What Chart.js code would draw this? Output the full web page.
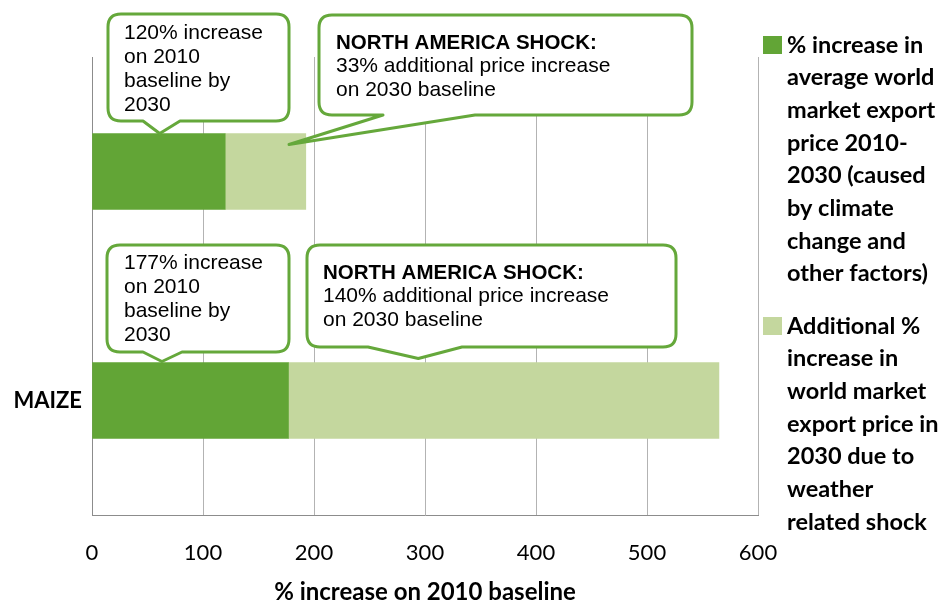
<!DOCTYPE html>
<html>
<head>
<meta charset="utf-8">
<script src="https://cdn.jsdelivr.net/npm/chart.js@4/dist/chart.umd.min.js"></script>
<style>
  html, body { margin: 0; padding: 0; background: #fff; }
  #wrap { width: 948px; height: 601px; position: relative; }
</style>
</head>
<body>
<div id="wrap"><canvas id="price-chart" width="948" height="601"></canvas></div>
<script>
/* data */
const categories = ['', 'MAIZE'];
const baseIncrease = [120, 177];      // % increase 2010-2030
const shockIncrease = [72.6, 387.8];  // additional % from the North America shock
const xTicks = [0, 100, 200, 300, 400, 500, 600];

const seriesNames = [
    ['% increase in', 'average world', 'market export', 'price 2010-', '2030 (caused', 'by climate', 'change and', 'other factors)'],
    ['Additional %', 'increase in', 'world market', 'export price in', '2030 due to', 'weather', 'related shock']
];
const axisTitle = '% increase on 2010 baseline';

const darkGreen = '#62A536';
const lightGreen = '#C4D79E';
const calloutGreen = '#65A83B';

/* callouts: box in pixels, tip tied to a bar (category index + x value) */
const callouts = [
    { box: [108, 14, 289, 121], base: [143, 180], bar: 0, tipValue: 61, tipDy: 0,
      bold: null, lines: ['120% increase', 'on 2010', 'baseline by', '2030'], tx: 124, ty: 39 },
    { box: [319, 15, 692, 115], base: [383, 475], bar: 0, tipValue: 177.5, tipDy: 11,
      bold: 'NORTH AMERICA SHOCK:', lines: ['33% additional price increase', 'on 2030 baseline'], tx: 336, ty: 49 },
    { box: [107, 245, 289, 352], base: [143, 182], bar: 1, tipValue: 63, tipDy: -1,
      bold: null, lines: ['177% increase', 'on 2010', 'baseline by', '2030'], tx: 124, ty: 269 },
    { box: [307, 245, 676, 347], base: [368, 462], bar: 1, tipValue: 294, tipDy: -4,
      bold: 'NORTH AMERICA SHOCK:', lines: ['140% additional price increase', 'on 2030 baseline'], tx: 323, ty: 279 }
];

function roundRectPath(c, x0, y0, x1, y1, r, bx0, bx1, tx, ty) {
    c.beginPath();
    c.moveTo(x0 + r, y0);
    c.lineTo(x1 - r, y0);
    c.quadraticCurveTo(x1, y0, x1, y0 + r);
    c.lineTo(x1, y1 - r);
    c.quadraticCurveTo(x1, y1, x1 - r, y1);
    c.lineTo(bx1, y1);
    c.lineTo(tx, ty);
    c.lineTo(bx0, y1);
    c.lineTo(x0 + r, y1);
    c.quadraticCurveTo(x0, y1, x0, y1 - r);
    c.lineTo(x0, y0 + r);
    c.quadraticCurveTo(x0, y0, x0 + r, y0);
    c.closePath();
}

const calloutPlugin = {
    id: 'callouts',
    afterDatasetsDraw(chart) {
        const c = chart.ctx;
        const xs = chart.scales.x;
        const bars = chart.getDatasetMeta(0).data;
        c.save();
        callouts.forEach(co => {
            const bar = bars[co.bar];
            const tipX = xs.getPixelForValue(co.tipValue);
            const tipY = bar.y - bar.height / 2 + co.tipDy;
            const [x0, y0, x1, y1] = co.box;
            roundRectPath(c, x0, y0, x1, y1, 13, co.base[0], co.base[1], tipX, tipY);
            c.fillStyle = '#fff';
            c.fill();
            c.lineWidth = 3;
            c.lineJoin = 'round';
            c.strokeStyle = calloutGreen;
            c.stroke();
            c.fillStyle = '#000';
            c.textBaseline = 'alphabetic';
            c.textAlign = 'left';
            let y = co.ty;
            if (co.bold) {
                c.font = 'bold 20.5px "Liberation Sans", Arial, sans-serif';
                c.fillText(co.bold, co.tx, y);
                y += 23;
            }
            c.font = '21px "Liberation Sans", Arial, sans-serif';
            co.lines.forEach(l => { c.fillText(l, co.tx, y); y += 24; });
        });
        c.restore();
    }
};

const legendPlugin = {
    id: 'sideLegend',
    afterDraw(chart) {
        const c = chart.ctx;
        const colors = [darkGreen, lightGreen];
        const starts = [45, 326];
        c.save();
        c.font = 'bold 23.5px Lato, "Open Sans", sans-serif';
        c.textBaseline = 'middle';
        c.fillStyle = '#000';
        seriesNames.forEach((lines, i) => {
            c.fillStyle = colors[i];
            c.fillRect(763, starts[i] - 9, 19, 18);
            c.fillStyle = '#000';
            lines.forEach((l, k) => c.fillText(l, 787, starts[i] + k * 32.7));
        });
        c.restore();
    }
};

let ctx = document.querySelector('#price-chart').getContext('2d');

let chart = new Chart(ctx, {
    type: 'bar',
    data: {
        labels: categories,
        datasets: [
            { label: seriesNames[0].join(' '), data: baseIncrease, backgroundColor: darkGreen, barThickness: 76 },
            { label: seriesNames[1].join(' '), data: shockIncrease, backgroundColor: lightGreen, barThickness: 76 }
        ]
    },
    options: {
        indexAxis: 'y',
        responsive: false,
        animation: false,
        layout: { padding: { top: 57, right: 190, left: 0, bottom: 0 } },
        plugins: {
            legend: { display: false },
            tooltip: { enabled: false }
        },
        scales: {
            x: {
                stacked: true,
                min: 0,
                max: 600,
                afterBuildTicks: s => { s.ticks = xTicks.map(v => ({ value: v })); },
                ticks: {
                    color: '#000',
                    font: { family: 'Lato, sans-serif', size: 22 },
                    padding: 25
                },
                grid: { color: '#B3B3B3', lineWidth: 1, drawTicks: false },
                border: { color: '#8C8C8C' },
                title: {
                    display: true,
                    text: axisTitle,
                    color: '#000',
                    font: { family: 'Lato, sans-serif', size: 24, weight: 'bold' },
                    padding: { top: 8, bottom: -6 }
                },
                afterFit: s => { s.height = 86; }
            },
            y: {
                stacked: true,
                ticks: {
                    color: '#000',
                    font: { family: 'Lato, sans-serif', size: 22, weight: 'bold' },
                    padding: 10
                },
                grid: { display: false, drawTicks: false },
                border: { color: '#8C8C8C' },
                afterFit: s => { s.width = 92; }
            }
        }
    },
    plugins: [calloutPlugin, legendPlugin]
});
</script>
</body>
</html>
